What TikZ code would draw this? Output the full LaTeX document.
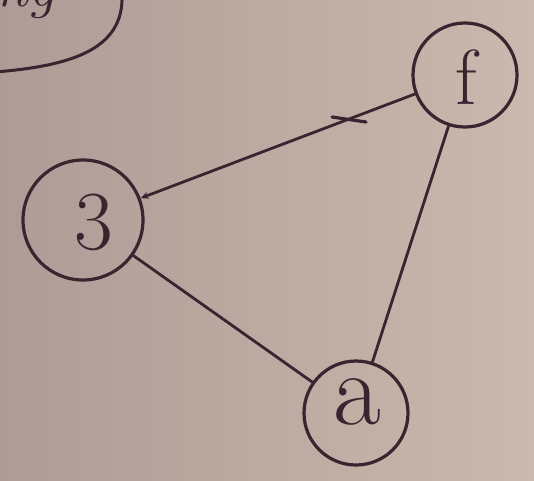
\documentclass[tikz,border=0pt]{standalone}
\usetikzlibrary{arrows.meta,shadings}
\definecolor{paperdark}{HTML}{AF9B96}
\definecolor{paperlight}{HTML}{CAB9AE}
\definecolor{ink}{HTML}{3A2430}
\tikzset{
  vertex/.style={circle,draw=ink,line width=3.2pt,text=ink,inner sep=0pt},
  edge/.style={draw=ink,line width=2.8pt,line cap=round},
}
\begin{document}
\begin{tikzpicture}[x=1pt,y=-1pt]
\useasboundingbox (0,0) rectangle (534,480);
\clip (0,0) rectangle (534,480);
\shade[left color=paperdark,right color=paperlight] (0,0) rectangle (534,480);
% nodes
\node[vertex,minimum size=104pt] (f) at (465,75) {};
\node[text=ink,font=\fontsize{78}{78}\selectfont] (fl) at (466,77) {f};
\node[vertex,minimum size=120pt] (g) at (83,220) {};
\node[text=ink,font=\fontsize{84}{84}\selectfont] (gl) at (94,222) {3};
\node[vertex,minimum size=104pt] (a) at (356,413) {};
\node[text=ink,font=\fontsize{104}{104}\selectfont] (al) at (357,402) {a};
% edges
\draw[edge,-{Stealth[length=8pt,width=7pt]}] (f) -- (g) coordinate[pos=0.24] (t);
\draw[edge] (f) -- (a);
\draw[edge] (g) -- (a);
% tick mark on f--g
\draw[edge,line width=3.2pt] ([xshift=-17pt,yshift=2pt]t) -- ([xshift=17pt,yshift=-3pt]t);
% partial box at top left
\draw[edge,line width=3pt] (-5,72) .. controls (70,66) and (124,50) .. (122,-5);
\node[text=ink,font=\fontsize{60}{60}\selectfont\itshape,anchor=base west] (txt) at (-8,6) {ng};
\end{tikzpicture}
\end{document}
